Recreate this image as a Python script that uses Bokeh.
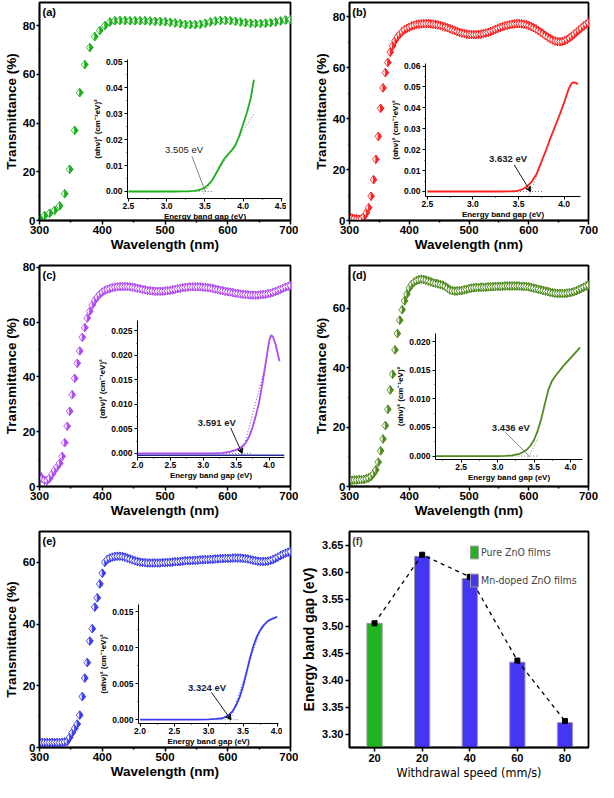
from bokeh.plotting import figure
from bokeh.models import (GridBox, Range1d, FixedTicker, Label, Arrow, VeeHead,
                          Legend, LegendItem, ColumnDataSource, NumeralTickFormatter)
from bokeh.embed import file_html
from bokeh.resources import INLINE

FONT = "Liberation Sans"
NARROW = "DejaVu Sans Condensed"

# ---------------- data ----------------
wavelength_a = list(range(300, 701, 8))
transmittance_a = [1.0, 2.0, 3.0, 4.2, 6.0, 11.0, 21.0, 37.0, 52.5, 64.0,
                   71.0, 75.5, 78.0, 80.0, 81.5, 82.0, 82.1, 82.1, 82.0, 82.0,
                   82.0, 82.0, 81.9, 81.8, 81.7, 81.6, 81.4, 81.1, 80.8, 80.5,
                   80.4, 80.4, 80.6, 81.0, 81.5, 81.9, 82.1, 82.1, 82.0, 81.8,
                   81.5, 81.2, 81.0, 80.9, 80.9, 81.0, 81.2, 81.5, 81.9, 82.3,
                   82.6]
wavelength = list(range(300, 701, 4))
transmittance_b = [1.2, 1.0, 0.8, 0.6, 0.5, 0.7, 1.5, 3.0, 5.0, 9.5,
                   16.0, 24.0, 33.0, 44.0, 52.0, 58.0, 62.0, 66.0, 68.5, 70.5,
                   72.0, 73.0, 74.0, 74.8, 75.4, 75.8, 76.3, 76.6, 76.9, 77.0,
                   77.1, 77.2, 77.2, 77.2, 77.1, 77.0, 76.9, 76.7, 76.5, 76.2,
                   75.9, 75.6, 75.2, 74.8, 74.5, 74.1, 73.8, 73.5, 73.3, 73.1,
                   73.0, 72.9, 72.9, 72.9, 73.0, 73.1, 73.3, 73.5, 73.8, 74.1,
                   74.5, 74.9, 75.3, 75.7, 76.0, 76.3, 76.6, 76.8, 77.0, 77.1,
                   77.2, 77.2, 77.1, 77.0, 76.8, 76.5, 76.1, 75.6, 75.1, 74.5,
                   73.9, 73.2, 72.5, 71.9, 71.3, 70.8, 70.4, 70.2, 70.1, 70.2,
                   70.5, 71.0, 71.6, 72.3, 73.1, 73.9, 74.7, 75.5, 76.3, 77.0,
                   77.6]
transmittance_c = [4.2, 3.0, 2.3, 2.2, 3.0, 4.5, 6.0, 7.2, 8.5, 11.0,
                   16.0, 22.0, 27.5, 33.5, 39.5, 45.0, 49.5, 54.5, 58.0, 61.5,
                   64.0, 66.3, 68.0, 69.2, 70.2, 71.0, 71.6, 72.0, 72.3, 72.6,
                   72.8, 72.9, 73.0, 73.0, 73.0, 73.0, 72.9, 72.8, 72.6, 72.4,
                   72.2, 72.0, 71.8, 71.6, 71.5, 71.4, 71.3, 71.3, 71.3, 71.3,
                   71.4, 71.5, 71.6, 71.8, 72.0, 72.2, 72.4, 72.6, 72.7, 72.8,
                   72.9, 72.9, 72.9, 72.9, 72.9, 72.8, 72.7, 72.6, 72.5, 72.3,
                   72.1, 71.9, 71.7, 71.5, 71.3, 71.1, 71.0, 70.8, 70.6, 70.5,
                   70.3, 70.2, 70.1, 70.0, 69.9, 69.9, 69.9, 69.9, 70.0, 70.1,
                   70.2, 70.4, 70.6, 70.9, 71.2, 71.6, 72.0, 72.4, 72.8, 73.1,
                   73.4]
transmittance_d = [2.0, 2.1, 2.2, 2.2, 2.3, 2.3, 2.4, 2.6, 2.9, 3.4,
                   4.3, 5.6, 8.2, 12.0, 16.0, 20.5, 26.0, 32.5, 37.8, 46.0,
                   51.5, 56.0, 59.5, 62.5, 64.8, 66.8, 68.0, 68.8, 69.3, 69.6,
                   69.8, 69.7, 69.5, 69.2, 68.9, 68.6, 68.4, 68.2, 68.0, 67.8,
                   67.4, 66.8, 66.2, 65.9, 65.8, 65.8, 65.9, 66.0, 66.2, 66.4,
                   66.6, 66.8, 66.9, 67.0, 67.0, 67.1, 67.1, 67.1, 67.2, 67.2,
                   67.3, 67.3, 67.4, 67.4, 67.4, 67.5, 67.5, 67.5, 67.5, 67.5,
                   67.5, 67.5, 67.4, 67.4, 67.3, 67.2, 67.0, 66.8, 66.6, 66.4,
                   66.2, 66.0, 65.8, 65.6, 65.4, 65.2, 65.1, 65.0, 65.0, 65.0,
                   65.0, 65.1, 65.2, 65.4, 65.6, 65.9, 66.3, 66.7, 67.1, 67.5,
                   67.8]
transmittance_e = [1.6, 1.6, 1.6, 1.6, 1.6, 1.6, 1.6, 1.6, 1.6, 1.7,
                   1.8, 2.0, 3.3, 4.8, 6.2, 7.6, 10.5, 16.5, 22.5, 27.5,
                   34.5, 38.5, 45.5, 48.5, 53.0, 56.5, 60.0, 61.0, 61.4, 61.7,
                   61.9, 62.0, 62.0, 61.9, 61.7, 61.4, 61.1, 60.8, 60.5, 60.3,
                   60.1, 60.0, 59.9, 59.8, 59.8, 59.8, 59.8, 59.8, 59.8, 59.9,
                   59.9, 60.0, 60.0, 60.1, 60.2, 60.2, 60.3, 60.4, 60.5, 60.5,
                   60.6, 60.6, 60.7, 60.7, 60.8, 60.8, 60.9, 60.9, 61.0, 61.0,
                   61.1, 61.1, 61.2, 61.2, 61.3, 61.3, 61.3, 61.4, 61.4, 61.4,
                   61.4, 61.3, 61.2, 61.1, 60.9, 60.7, 60.5, 60.4, 60.3, 60.3,
                   60.3, 60.4, 60.6, 60.9, 61.3, 61.7, 62.2, 62.6, 63.0, 63.3,
                   63.5]

# Tauc plots (insets)
energy_a = [2.5, 2.6, 2.7, 2.8, 2.9, 3.0, 3.1, 3.2, 3.3, 3.35, 3.4, 3.45, 3.5, 3.55,
            3.6, 3.65, 3.7, 3.75, 3.8, 3.85, 3.9, 3.95, 4.0, 4.05, 4.1, 4.14]
tauc_a = [0, 0, 0, 0, 0, 0, 0, 0.00005, 0.0001, 0.0002, 0.0004, 0.0008, 0.0015, 0.0028,
          0.0045, 0.0072, 0.0099, 0.0125, 0.0142, 0.0158, 0.0178, 0.0215, 0.026, 0.0305,
          0.036, 0.043]
energy_b = [2.5, 2.6, 2.7, 2.8, 2.9, 3.0, 3.1, 3.2, 3.3, 3.4, 3.45, 3.5, 3.55, 3.6, 3.65,
            3.7, 3.75, 3.8, 3.85, 3.9, 3.95, 4.0, 4.05, 4.08, 4.1, 4.13, 4.15]
tauc_b = [0, 0, 0, 0, 0, 0, 0, 0, 0, 0.00005, 0.0001, 0.0004, 0.0012, 0.0027, 0.005,
          0.0085, 0.014, 0.0195, 0.0255, 0.031, 0.0365, 0.0425, 0.049, 0.0515, 0.0522,
          0.052, 0.0512]
energy_c = [2.0, 2.2, 2.4, 2.6, 2.8, 3.0, 3.2, 3.3, 3.4, 3.5, 3.55, 3.6, 3.65, 3.7, 3.75,
            3.8, 3.85, 3.9, 3.95, 4.0, 4.03, 4.06, 4.1, 4.13, 4.16]
tauc_c = [0, 0, 0, 0, 0, 0, 0.00005, 0.0001, 0.0003, 0.0007, 0.001, 0.0015, 0.0022,
          0.0035, 0.0053, 0.0077, 0.0105, 0.0143, 0.0185, 0.0228, 0.0241, 0.0238, 0.0222,
          0.0204, 0.0188]
energy_d = [2.15, 2.4, 2.6, 2.8, 3.0, 3.1, 3.2, 3.3, 3.35, 3.4, 3.45, 3.5, 3.55, 3.6,
            3.65, 3.7, 3.75, 3.8, 3.85, 3.9, 3.95, 4.0, 4.05, 4.1, 4.13]
tauc_d = [0, 0, 0, 0, 0, 0.00003, 0.0001, 0.0004, 0.0007, 0.0011, 0.0018, 0.0028, 0.0044,
          0.0065, 0.0092, 0.0117, 0.0132, 0.0141, 0.0149, 0.0157, 0.0164, 0.0171, 0.0178,
          0.0185, 0.019]
energy_e = [2.0, 2.2, 2.4, 2.6, 2.8, 3.0, 3.1, 3.2, 3.25, 3.3, 3.35, 3.4, 3.45, 3.5, 3.55,
            3.6, 3.65, 3.7, 3.75, 3.8, 3.85, 3.9, 3.95, 4.0]
tauc_e = [0, 0, 0, 0, 0, 0.00003, 0.0001, 0.0002, 0.0004, 0.0007, 0.0012, 0.002, 0.0031,
          0.0046, 0.0065, 0.0085, 0.0102, 0.0115, 0.0124, 0.0131, 0.0136, 0.0139, 0.0141,
          0.0143]

# extrapolation (tangent) lines and baselines of the Tauc plots
tangent_x = {"a": [3.48, 4.14], "b": [3.61, 3.75], "c": [3.57, 3.96], "d": [3.41, 3.56], "e": [3.31, 3.77]}
tangent_y = {"a": [-0.001, 0.030], "b": [-0.0023, 0.013], "c": [-0.001, 0.0185], "d": [-0.0006, 0.0032], "e": [-0.0003, 0.0131]}
baseline_x = {"a": [3.38, 3.62], "b": [3.45, 3.78], "c": [3.3, 3.75], "d": [3.2, 3.55], "e": [3.1, 3.45]}

# band gaps (panel f)
band_gap = [3.505, 3.632, 3.591, 3.436, 3.324]
bar_tops = [3.505, 3.629, 3.588, 3.433, 3.321]
speed_labels = ["20", "20", "40", "60", "80"]
film_type = ["Pure ZnO films", "Mn-doped ZnO films", "Mn-doped ZnO films",
             "Mn-doped ZnO films", "Mn-doped ZnO films"]

# annotation positions (text centre, arrow start) in inset data units
label_pos = {"a": (3.228, 0.0160), "b": (3.386, 0.0157), "c": (3.206, 0.0062),
             "d": (3.182, 0.0050), "e": (2.976, 0.00445)}
arrow_start = {"a": (3.331, 0.0135), "b": (3.453, 0.0127), "c": (3.416, 0.0052),
               "d": (3.10, 0.0042), "e": (3.04, 0.0038)}

COL = {"a": "#1cb01c", "b": "#ff2020", "c": "#b048f5", "d": "#4f8a1e", "e": "#3c3cf2"}


# ---------------- helpers ----------------
def style_axis(ax, tick_size, label_size, label_style="bold", label_font=FONT, tick_out=4,
               lw=1.5, tick_standoff=2, label_standoff=2):
    ax.axis_line_width = lw
    ax.axis_line_color = "black"
    ax.major_tick_in = 0
    ax.major_tick_out = tick_out
    ax.major_tick_line_width = lw
    ax.minor_tick_in = 0
    ax.minor_tick_out = max(1, tick_out // 2)
    ax.minor_tick_line_width = lw
    ax.major_label_text_font = FONT
    ax.major_label_text_font_style = "bold"
    ax.major_label_text_font_size = tick_size
    ax.major_label_text_color = "black"
    ax.major_label_standoff = tick_standoff
    ax.axis_label_text_font = label_font
    ax.axis_label_text_font_style = label_style
    ax.axis_label_text_font_size = label_size
    ax.axis_label_text_color = "black"
    ax.axis_label_standoff = label_standoff


def half_diamonds(p, xs, ys, color, fw, fh, xr, yr, hw=3.4, hh=4.3):
    dx = (xr[1] - xr[0]) / fw * hw
    dy = (yr[1] - yr[0]) / fh * hh
    pxs, pys, fills = [], [], []
    for x, y in zip(xs, ys):
        pxs.append([x - dx, x, x + dx, x])
        pys.append([y, y + dy, y, y - dy])
        fills.append("white")
        pxs.append([x, x + dx, x])
        pys.append([y + dy, y, y - dy])
        fills.append(color)
    src = ColumnDataSource(dict(xs=pxs, ys=pys, fill=fills))
    p.patches("xs", "ys", source=src, fill_color="fill", line_color=color, line_width=0.9)


def main_panel(key, w, h, bl, br, bt, bb, yr, yticks, yminor, xs, ys):
    xr = (300, 700)
    p = figure(width=w, height=h, x_range=Range1d(*xr), y_range=Range1d(*yr),
               output_backend="svg", toolbar_location=None,
               min_border_left=bl, min_border_right=br, min_border_top=bt, min_border_bottom=bb)
    p.outline_line_color = "black"
    p.outline_line_width = 1.8
    p.grid.visible = False
    p.background_fill_color = "white"
    p.border_fill_color = "white"
    p.xaxis.ticker = FixedTicker(ticks=[300, 400, 500, 600, 700], minor_ticks=[350, 450, 550, 650])
    p.yaxis.ticker = FixedTicker(ticks=yticks, minor_ticks=yminor)
    p.xaxis.axis_label = "Wavelength (nm)"
    p.yaxis.axis_label = "Transmittance (%)"
    style_axis(p.xaxis[0], "11.5px", "13.5px", tick_standoff=1, label_standoff=0)
    style_axis(p.yaxis[0], "11.5px", "13.5px", tick_out=3, tick_standoff=1, label_standoff=1)
    fw = w - bl - br
    fh = h - bt - bb
    half_diamonds(p, xs, ys, COL[key], fw, fh, xr, yr)
    p.add_layout(Label(x=xr[0] + 0.012 * (xr[1] - xr[0]), y=yr[1] - 0.018 * (yr[1] - yr[0]),
                       text="(" + key + ")", text_font=FONT, text_font_style="bold",
                       text_font_size="11px", text_baseline="top", text_color="black"))
    return p


def inset(key, w, h, bl, br, bt, bb, xr, yr, xticks, xminor, yticks, yminor, yfmt, ex, ty,
          bold_label=True, arrow_head=True, arrow_color="black"):
    p = figure(width=w, height=h, x_range=Range1d(*xr), y_range=Range1d(*yr),
               output_backend="svg", toolbar_location=None,
               min_border_left=bl, min_border_right=br, min_border_top=bt, min_border_bottom=bb)
    p.background_fill_alpha = 0
    p.border_fill_alpha = 0
    p.outline_line_color = None
    p.grid.visible = False
    p.xaxis.ticker = FixedTicker(ticks=xticks, minor_ticks=xminor)
    p.yaxis.ticker = FixedTicker(ticks=yticks, minor_ticks=yminor)
    p.xaxis.formatter = NumeralTickFormatter(format="0.0")
    p.yaxis.formatter = NumeralTickFormatter(format=yfmt)
    p.xaxis.axis_label = "Energy band gap (eV)"
    p.yaxis.axis_label = "(\u03b1h\u03bd)\u00b2 (cm\u207b\u00b9eV)\u00b2"
    style_axis(p.xaxis[0], "8.5px", "8px", tick_out=3, lw=1, tick_standoff=1, label_standoff=0)
    style_axis(p.yaxis[0], "8.5px", "8px", tick_out=3, lw=1, tick_standoff=2, label_standoff=1)
    color = COL[key]
    p.line(baseline_x[key], [0, 0], line_color="#777777", line_dash="1 2", line_width=1)
    tcol = "#4a4ae0" if key in ("c", "e") else "#777777"
    p.line(tangent_x[key], tangent_y[key], line_color=tcol, line_dash="1 2", line_width=1)
    p.line(ex, ty, line_color=color, line_width=1.8)
    idx = "abcde".index(key)
    lx, ly = label_pos[key]
    p.add_layout(Label(x=lx, y=ly, text=f"{band_gap[idx]:.3f} eV", text_font=FONT,
                       text_font_style="bold" if bold_label else "normal",
                       text_font_size="9.5px", text_align="center", text_baseline="middle",
                       text_color="#1a1a40" if key == "e" else "#222222"))
    sx, sy = arrow_start[key]
    p.add_layout(Arrow(x_start=sx, y_start=sy, x_end=band_gap[idx], y_end=0.0,
                       end=VeeHead(size=5, line_color=arrow_color, line_width=1) if arrow_head else None,
                       line_color=arrow_color, line_width=0.9))
    return p


# ---------------- main panels ----------------
pA = main_panel("a", 298, 254, 34, 8, 2, 32, (0, 89.5), [0, 20, 40, 60, 80], [10, 30, 50, 70],
                wavelength_a, transmittance_a)
pB = main_panel("b", 300, 254, 38, 10, 2, 32, (0, 85.5), [0, 20, 40, 60, 80], [10, 30, 50, 70],
                wavelength, transmittance_b)
pC = main_panel("c", 298, 266, 34, 8, 5, 33, (0, 80.7), [0, 20, 40, 60, 80], [10, 30, 50, 70],
                wavelength, transmittance_c)
pD = main_panel("d", 300, 266, 38, 10, 11, 33, (0, 74.4), [0, 20, 40, 60], [10, 30, 50, 70],
                wavelength, transmittance_d)
pE = main_panel("e", 298, 262, 34, 8, 11, 31, (0, 70.0), [0, 20, 40, 60], [10, 30, 50],
                wavelength, transmittance_e)

# ---------------- panel f ----------------
pF = figure(width=300, height=262, x_range=Range1d(-0.526, 4.494), y_range=Range1d(3.275, 3.675),
            output_backend="svg", toolbar_location=None,
            min_border_left=44, min_border_right=10, min_border_top=11, min_border_bottom=31)
pF.outline_line_color = "black"
pF.outline_line_width = 1.8
pF.grid.visible = False
positions = list(range(len(band_gap)))
pure_src = ColumnDataSource(dict(x=[i for i in positions if film_type[i].startswith("Pure")],
                                 top=[bar_tops[i] for i in positions if film_type[i].startswith("Pure")]))
mn_src = ColumnDataSource(dict(x=[i for i in positions if film_type[i].startswith("Mn")],
                               top=[bar_tops[i] for i in positions if film_type[i].startswith("Mn")]))
r_pure = pF.vbar(x="x", top="top", bottom=3.0, width=0.32, source=pure_src,
                 fill_color="#22b322", line_color="#9a9a9a", line_width=1)
r_mn = pF.vbar(x="x", top="top", bottom=3.0, width=0.32, source=mn_src,
               fill_color="#4535f5", line_color="#9a9a9a", line_width=1)
pF.line(positions, band_gap, line_color="black", line_dash="4 4", line_width=1.3)
pF.scatter(positions, band_gap, marker="square", size=5, color="black")
pF.xaxis.ticker = FixedTicker(ticks=positions)
pF.xaxis.major_label_overrides = {i: s for i, s in zip(positions, speed_labels)}
pF.yaxis.ticker = FixedTicker(ticks=[3.30, 3.35, 3.40, 3.45, 3.50, 3.55, 3.60, 3.65])
pF.yaxis.formatter = NumeralTickFormatter(format="0.00")
pF.xaxis.axis_label = "Withdrawal speed (mm/s)"
pF.yaxis.axis_label = "Energy band gap (eV)"
style_axis(pF.xaxis[0], "11px", "12.5px", label_style="normal", label_font=NARROW,
           tick_standoff=2, label_standoff=0)
style_axis(pF.yaxis[0], "11px", "14px", tick_standoff=2, label_standoff=2)
pF.xaxis.minor_tick_out = 0
pF.add_layout(Label(x=-0.47, y=3.668, text="(f)", text_font=FONT, text_font_style="bold",
                    text_font_size="10.5px", text_baseline="top"))
legend = Legend(items=[LegendItem(label="Pure ZnO films", renderers=[r_pure]),
                       LegendItem(label="Mn-doped ZnO films", renderers=[r_mn])],
                location=(120, 159), border_line_color=None, background_fill_alpha=0,
                label_text_font=NARROW, label_text_font_size="10.5px", glyph_width=10,
                glyph_height=16, spacing=12, padding=0, margin=0, label_standoff=2,
                label_height=16)
pF.add_layout(legend)

# ---------------- insets ----------------
iA = inset("a", 197, 168, 30, 4, 4, 22, (2.488, 4.514), (-0.0027, 0.0508),
           [2.5, 3.0, 3.5, 4.0, 4.5], [2.75, 3.25, 3.75, 4.25],
           [0, 0.01, 0.02, 0.03, 0.04, 0.05], [0.005, 0.015, 0.025, 0.035, 0.045], "0.00",
           energy_a, tauc_a, bold_label=False, arrow_head=False, arrow_color="#777777")
iB = inset("b", 197, 162, 30, 4, 4, 22, (2.48, 4.18), (-0.0024, 0.0612),
           [2.5, 3.0, 3.5, 4.0], [2.75, 3.25, 3.75],
           [0, 0.01, 0.02, 0.03, 0.04, 0.05, 0.06], [0.005, 0.015, 0.025, 0.035, 0.045, 0.055],
           "0.00", energy_b, tauc_b)
iC = inset("c", 193, 166, 34, 4, 4, 22, (2.0, 4.235), (-0.00085, 0.0271),
           [2.0, 2.5, 3.0, 3.5, 4.0], [2.25, 2.75, 3.25, 3.75],
           [0, 0.005, 0.010, 0.015, 0.020, 0.025], [0.0025, 0.0075, 0.0125, 0.0175, 0.0225],
           "0.000", energy_c, tauc_c)
iC.line([2.0, 4.235], [-0.0004, -0.0004], line_color="#2a2a9a", line_width=1.6)
iD = inset("d", 193, 155, 34, 4, 4, 22, (2.148, 4.165), (-0.0006, 0.0214),
           [2.5, 3.0, 3.5, 4.0], [2.25, 2.75, 3.25, 3.75],
           [0, 0.005, 0.010, 0.015, 0.020], [0.0025, 0.0075, 0.0125, 0.0175],
           "0.000", energy_d, tauc_d, arrow_head=False, arrow_color="#777777")
iE = inset("e", 186, 148, 34, 4, 4, 22, (1.978, 4.017), (-0.00053, 0.016),
           [2.0, 2.5, 3.0, 3.5, 4.0], [2.25, 2.75, 3.25, 3.75],
           [0, 0.005, 0.010, 0.015], [0.0025, 0.0075, 0.0125],
           "0.000", energy_e, tauc_e)

# ---------------- layout (overlapping grid cells) ----------------
placements = [
    (pA, 0, 0, 298, 254), (pB, 298, 0, 598, 254),
    (pC, 0, 254, 298, 520), (pD, 298, 254, 598, 520),
    (pE, 0, 520, 298, 782), (pF, 298, 520, 598, 782),
    (iA, 89, 55, 286, 223), (iB, 387, 59, 584, 221),
    (iC, 95, 316, 288, 482), (iD, 393, 329, 586, 484),
    (iE, 96, 600, 282, 748),
]
xb = sorted({v for pl in placements for v in (pl[1], pl[3])})
yb = sorted({v for pl in placements for v in (pl[2], pl[4])})
cols = [f"{b - a}px" for a, b in zip(xb[:-1], xb[1:])]
rows = [f"{b - a}px" for a, b in zip(yb[:-1], yb[1:])]
children = []
for f, x0, y0, x1, y1 in placements:
    f.width = x1 - x0
    f.height = y1 - y0
    ci, cj = xb.index(x0), xb.index(x1)
    ri, rj = yb.index(y0), yb.index(y1)
    children.append((f, ri, ci, rj - ri, cj - ci))

grid = GridBox(children=children, rows=rows, cols=cols, spacing=0)

open("out.html", "w").write(file_html(grid, INLINE))
